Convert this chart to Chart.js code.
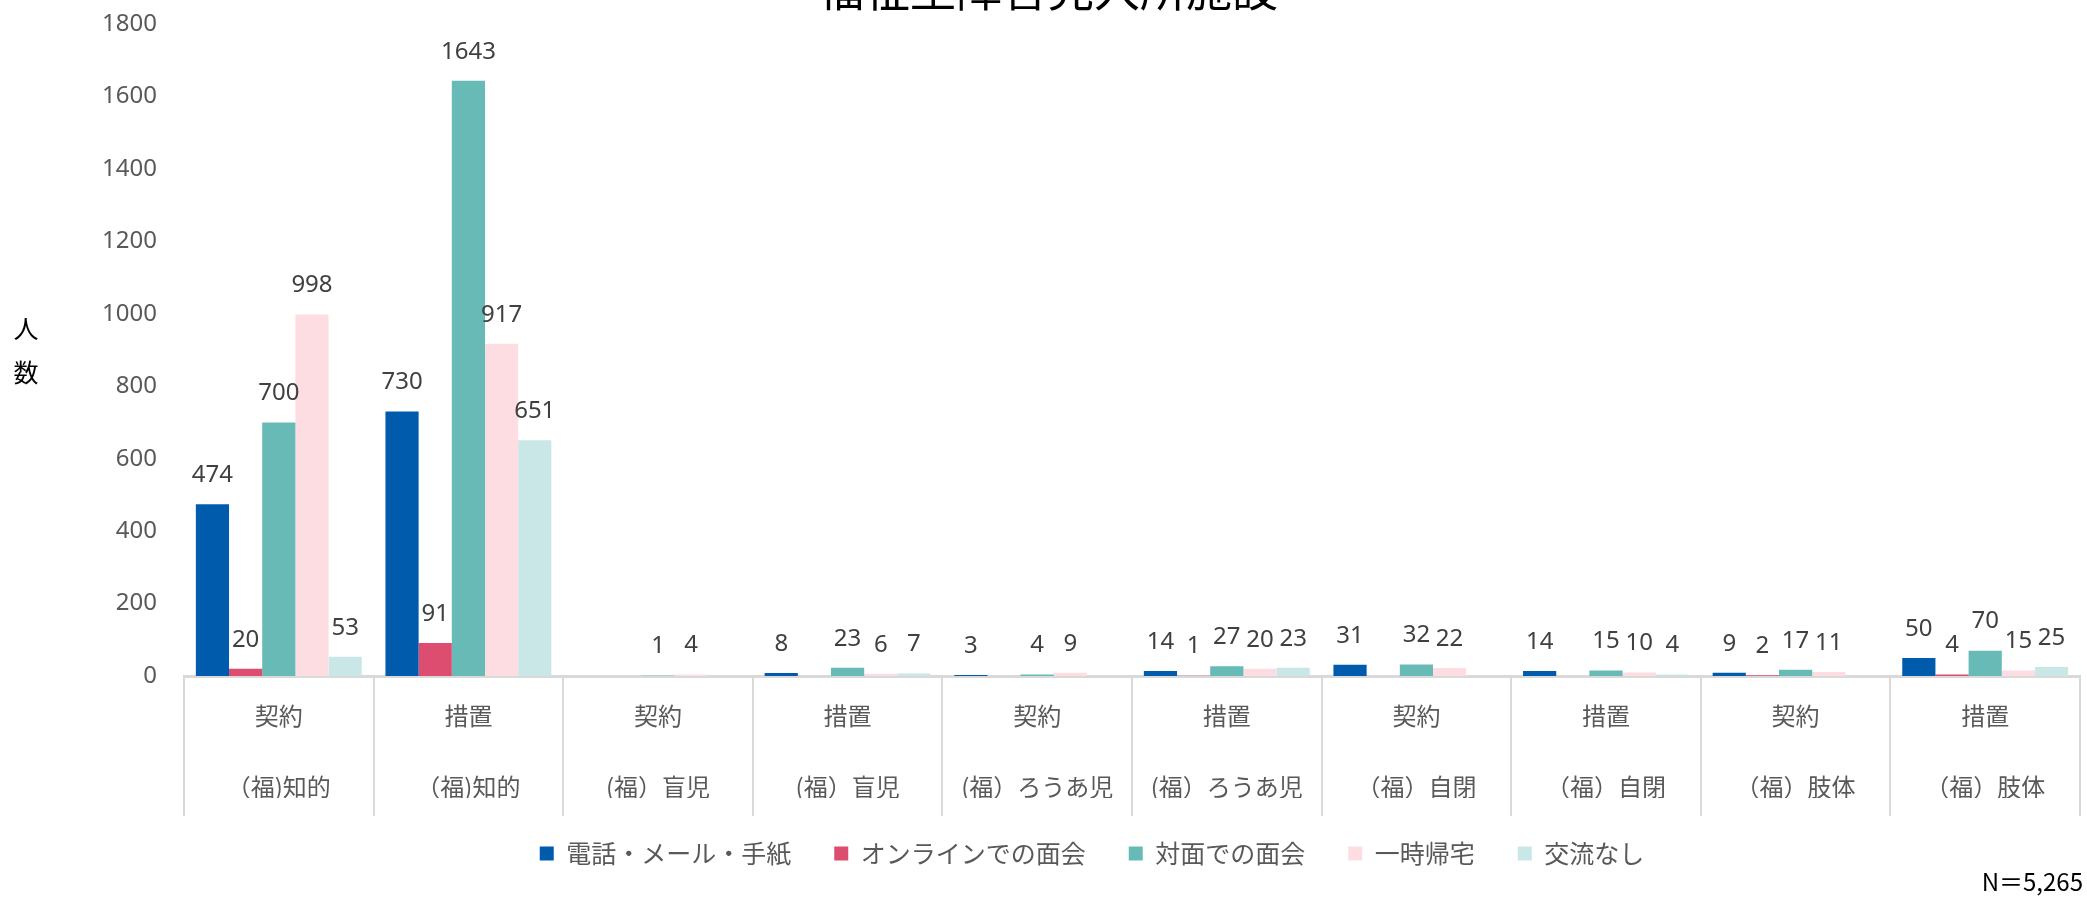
<!DOCTYPE html>
<html>
<head>
<meta charset="utf-8">
<script src="https://cdn.jsdelivr.net/npm/chart.js@4"></script>
<style>
  html, body { margin: 0; padding: 0; background: #fff; }
  #wrap { width: 2087px; height: 897px; }
</style>
</head>
<body>
<div id="wrap"><canvas id="chart"></canvas></div>
<script>
// categories (two-line labels)
const categories = [
    ['契約', '（福)知的'],
    ['措置', '（福)知的'],
    ['契約', '(福）盲児'],
    ['措置', '(福）盲児'],
    ['契約', '(福）ろうあ児'],
    ['措置', '(福）ろうあ児'],
    ['契約', '（福）自閉'],
    ['措置', '（福）自閉'],
    ['契約', '（福）肢体'],
    ['措置', '（福）肢体']
];

const seriesNames = ['電話・メール・手紙', 'オンラインでの面会', '対面での面会', '一時帰宅', '交流なし'];

const telMail = [474, 730, null, 8, 3, 14, 31, 14, 9, 50];
const online  = [20, 91, null, null, null, 1, null, null, 2, 4];
const faceToFace = [700, 1643, 1, 23, 4, 27, 32, 15, 17, 70];
const homeVisit  = [998, 917, 4, 6, 9, 20, 22, 10, 11, 15];
const noContact  = [53, 651, null, 7, null, 23, null, 4, null, 25];

const yTicks = [0, 200, 400, 600, 800, 1000, 1200, 1400, 1600, 1800];

const colors = ['#005BAC', '#DC4D6F', '#67BAB6', '#FDDDE1', '#C9E7E6'];

const chartTitle = '福祉型障害児入所施設';
const yTitle = ['人', '数'];
const noteText = 'N＝5,265';

const JP = "'Noto Sans CJK JP', 'Noto Sans', sans-serif";

// value labels above bars
const barLabels = {
    id: 'barLabels',
    afterDatasetsDraw(chart) {
        const ctx = chart.ctx;
        ctx.save();
        ctx.font = "24px 'Noto Sans', 'Noto Sans CJK JP', sans-serif";
        ctx.fillStyle = '#404040';
        ctx.textAlign = 'center';
        ctx.textBaseline = 'middle';
        chart.data.datasets.forEach((ds, i) => {
            const meta = chart.getDatasetMeta(i);
            meta.data.forEach((bar, j) => {
                const v = ds.data[j];
                if (v === null || v === undefined) return;
                ctx.fillText(String(v), bar.x, bar.y - 29);
            });
        });
        ctx.restore();
    }
};

// title (cut at top), vertical y title and N note
const extraText = {
    id: 'extraText',
    afterDraw(chart) {
        const ctx = chart.ctx;
        ctx.save();
        ctx.fillStyle = '#000';
        ctx.textAlign = 'center';
        ctx.textBaseline = 'alphabetic';
        ctx.font = '46px ' + JP;
        ctx.fillText(chartTitle, 1048, 6);

        ctx.textBaseline = 'middle';
        ctx.font = '25px ' + JP;
        ctx.fillText(yTitle[0], 26, 328);
        ctx.fillText(yTitle[1], 26, 372);

        ctx.textAlign = 'right';
        ctx.font = '24px ' + JP;
        ctx.fillText(noteText, 2083, 882);
        ctx.restore();
    }
};

const seriesData = [telMail, online, faceToFace, homeVisit, noContact];

new Chart(document.getElementById('chart'), {
    type: 'bar',
    data: {
        labels: categories,
        datasets: seriesNames.map((name, i) => ({
            label: name,
            data: seriesData[i],
            backgroundColor: colors[i],
            borderWidth: 0,
            categoryPercentage: 0.875,
            barPercentage: 1.0
        }))
    },
    options: {
        responsive: true,
        maintainAspectRatio: false,
        animation: false,
        layout: {
            padding: { top: 24, left: 104, right: 7, bottom: 21 }
        },
        plugins: {
            title: { display: false },
            tooltip: { enabled: false },
            legend: {
                position: 'bottom',
                labels: {
                    boxWidth: 14,
                    boxHeight: 14,
                    padding: 43,
                    color: '#595959',
                    font: { family: JP, size: 25 }
                }
            }
        },
        scales: {
            x: {
                offset: true,
                grid: {
                    offset: true,
                    drawOnChartArea: false,
                    color: '#d9d9d9',
                    tickColor: '#d9d9d9',
                    tickLength: 140,
                    lineWidth: 2
                },
                border: { color: '#d9d9d9', width: 3 },
                ticks: {
                    color: '#595959',
                    font: { family: JP, size: 24, lineHeight: '71px' },
                    padding: -135.5,
                    maxRotation: 0,
                    autoSkip: false
                },
                afterFit(scale) { scale.height = 122; }
            },
            y: {
                min: 0,
                max: 1800,
                afterBuildTicks(scale) {
                    scale.ticks = yTicks.map(v => ({ value: v }));
                },
                grid: { display: false, drawTicks: false },
                border: { display: false },
                ticks: {
                    color: '#595959',
                    font: { family: "'Noto Sans', sans-serif", size: 24 },
                    padding: 27,
                    callback: v => String(v)
                },
                afterFit(scale) {
                    scale.width = 80;
                    scale.paddingTop = 10;
                    scale.paddingBottom = 10;
                }
            }
        }
    },
    plugins: [barLabels, extraText]
});
</script>
</body>
</html>
